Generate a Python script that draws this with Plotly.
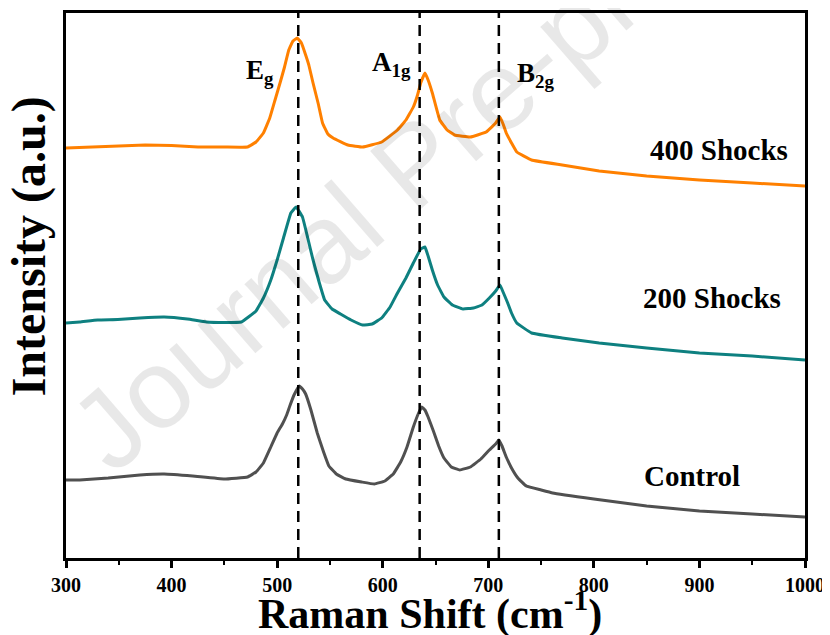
import plotly.graph_objects as go

# Raman shift (cm^-1) and intensity (a.u.)
shift_400 = [300, 325, 350, 375, 400, 425, 450, 472, 480, 487, 493, 498, 503, 507, 511, 515, 519, 523, 527, 530,
             534, 539, 543, 548, 553, 567, 581, 599, 614, 622, 629, 633, 636, 640, 643, 647, 654, 661, 668, 683,
             698, 707, 711, 714, 717, 722, 727, 741, 770, 805, 850, 900, 950, 1000]
int_400 = [410, 411, 412, 413, 412.5, 411, 411, 411, 416, 425, 440, 458, 476, 491, 508, 517, 520, 515, 503, 493,
           475, 454, 435, 424, 420, 413, 411, 416, 428, 438, 451, 463, 475, 485, 478, 465, 438, 428, 423, 421,
           426, 435, 441, 434, 425, 415, 406, 398, 393, 387, 382, 378, 375, 372]

shift_200 = [300, 313, 330, 349, 370, 393, 415, 433, 450, 466, 480, 487, 494, 500, 506, 513, 518, 524, 529,
             534, 540, 545, 552, 560, 570, 581, 590, 599, 607, 614, 622, 629, 636, 640, 643, 647, 652, 658, 666,
             676, 686, 694, 701, 707, 711, 714, 718, 722, 727, 741, 770, 805, 850, 900, 950, 1000]
int_200 = [235, 236, 238, 238.5, 240, 241, 239, 236, 235.5, 236, 247, 260, 278, 298, 320, 345, 351, 341, 320,
           298, 275, 258, 249, 244, 238, 233, 234, 240, 251, 265, 280, 295, 309, 311, 302, 288, 273, 261, 253,
           249, 250, 253, 260, 267, 273, 266, 256, 245, 235, 225, 220, 215, 210, 205, 202, 198]

shift_ctrl = [300, 313, 340, 370, 393, 420, 450, 472, 480, 487, 494, 500, 505, 509, 512, 516, 521, 524, 527, 532,
              538, 544, 549, 556, 565, 580, 592, 602, 610, 617, 623, 629, 634, 637, 640, 643, 648, 653, 658, 665,
              673, 683, 693, 701, 707, 710, 713, 717, 722, 728, 736, 750, 761, 800, 850, 900, 950, 1000]
int_ctrl = [78, 78, 80, 83, 84, 82, 79, 81, 86, 95, 111, 125, 134, 143, 152, 163, 172, 169, 164, 148,
            125, 106, 92, 84, 79, 76, 74, 77, 84, 96, 111, 131, 145, 151, 148, 141, 127, 112, 100, 91,
            88, 91, 99, 108, 114, 118, 112, 101, 90, 80, 72, 68, 65, 59, 52, 47, 44, 41]

series_names = ["400 Shocks", "200 Shocks", "Control"]
series_colors = ["#FF8000", "#0E8080", "#505050"]
label_pos_x = [919, 912, 893]
label_pos_y = [408, 260, 82]

mode_positions = [520, 635, 710]
mode_labels = ["E<sub>g</sub>", "A<sub>1g</sub>", "B<sub>2g</sub>"]
mode_label_x = [469, 588, 725]
mode_label_y = [486, 494, 483]

x_ticks = [300, 400, 500, 600, 700, 800, 900, 1000]

SERIF = "Liberation Serif, Times New Roman, serif"

fig = go.Figure()

# watermark
fig.add_annotation(text="Journal Pre-proof", xref="paper", yref="paper", x=0.472, y=0.723,
                   xanchor="center", yanchor="middle",
                   showarrow=False, textangle=-41,
                   font=dict(family="Liberation Sans, Arial, sans-serif", size=112, color="rgba(0,0,0,0.09)"))

for xs, ys, name, col in zip([shift_400, shift_200, shift_ctrl], [int_400, int_200, int_ctrl],
                             series_names, series_colors):
    fig.add_trace(go.Scatter(x=xs, y=ys, mode="lines", name=name,
                             line=dict(color=col, width=3, shape="spline", smoothing=0.25),
                             showlegend=False))

for xv in mode_positions:
    fig.add_shape(type="line", x0=xv, x1=xv, xref="x", y0=0, y1=1, yref="paper",
                  line=dict(color="black", width=2.5, dash="11px,7px"))

for txt, xv, yv in zip(mode_labels, mode_label_x, mode_label_y):
    fig.add_annotation(text="<b>" + txt + "</b>", x=xv, y=yv, xanchor="left", yanchor="middle",
                       showarrow=False, font=dict(family=SERIF, size=27, color="black"))

for name, xv, yv in zip(series_names, label_pos_x, label_pos_y):
    fig.add_annotation(text="<b>" + name + "</b>", x=xv, y=yv, xanchor="center", yanchor="middle",
                       showarrow=False, font=dict(family=SERIF, size=29, color="black"))

# axis titles (placed as annotations for exact position)
fig.add_annotation(text="<b>Raman Shift (cm<sup>-1</sup>)</b>", xref="paper", yref="paper",
                   x=0.493, y=-0.097, xanchor="center", yanchor="middle", showarrow=False,
                   font=dict(family=SERIF, size=42, color="black"))
fig.add_annotation(text="<b>Intensity (a.u.)</b>", xref="paper", yref="paper",
                   x=-0.05, y=0.572, xanchor="center", yanchor="middle", showarrow=False, textangle=-90,
                   font=dict(family=SERIF, size=48, color="black"))

# the page body adds an 8px offset, margins compensate so the plot box lands where the reference has it
fig.update_layout(
    width=830, height=635,
    margin=dict(l=58, r=33, t=5, b=85, autoexpand=False),
    paper_bgcolor="white", plot_bgcolor="white",
    font=dict(family=SERIF, color="black"),
)
fig.update_xaxes(range=[300, 1000], tickvals=x_ticks, ticktext=["<b>%d</b>" % v for v in x_ticks],
                 tickfont=dict(family=SERIF, size=20, color="black"),
                 ticks="outside", ticklen=7, tickwidth=2.5, tickcolor="black",
                 minor=dict(dtick=50, tick0=300, ticks="outside", ticklen=4, tickwidth=2, tickcolor="black"),
                 showline=True, linewidth=2.5, linecolor="black", mirror=True,
                 showgrid=False, zeroline=False, automargin=False)
fig.update_yaxes(range=[0, 545], showticklabels=False, ticks="",
                 showline=True, linewidth=2.5, linecolor="black", mirror=True,
                 showgrid=False, zeroline=False, automargin=False)

fig.write_html("out.html")
